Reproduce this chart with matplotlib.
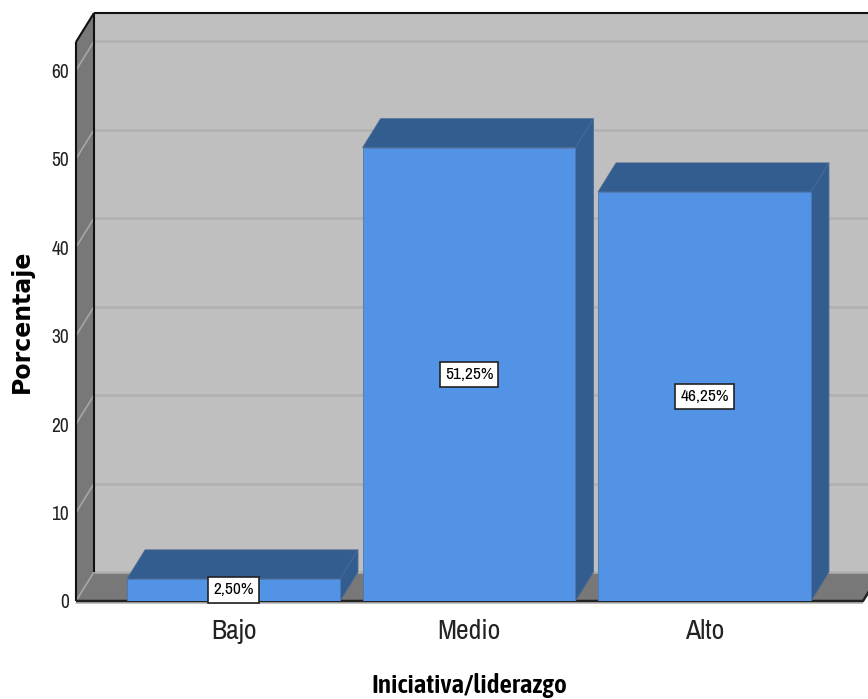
import matplotlib
matplotlib.use('Agg')
import matplotlib.pyplot as plt
from matplotlib.patches import Polygon

categorias = ['Bajo', 'Medio', 'Alto']
porcentajes = [2.50, 51.25, 46.25]
etiquetas = ['2,50%', '51,25%', '46,25%']
ticks_y = [0, 10, 20, 30, 40, 50, 60]

plt.rcParams['font.family'] = ['Archivo Narrow', 'Liberation Sans', 'DejaVu Sans']

AZUL = '#5393E5'
AZUL_OSC = '#335C8F'
PARED = '#BFBFBF'
GRIS_OSC = '#787878'
ANCHO = 0.904
# desplazamiento de la profundidad, en unidades de los datos
DX = 0.0764
DY = 3.28
Y_MAX = 63.2
X_MIN, X_MAX = -0.669, 2.673

fig = plt.figure(figsize=(8.68, 6.99), dpi=100)
ax = fig.add_axes([76/868, 98/699, (863-76)/868, (601-42)/699])
ax.set_xlim(X_MIN, X_MAX)
ax.set_ylim(0, Y_MAX)
ax.patch.set_visible(False)
for s in ax.spines.values():
    s.set_visible(False)


def poli(puntos, color, z, borde='none', lw=0):
    ax.add_patch(Polygon(puntos, closed=True, facecolor=color, edgecolor=borde,
                         linewidth=lw, zorder=z, clip_on=False))


def linea(xs, ys, color, lw, z):
    ax.plot(xs, ys, color=color, lw=lw, zorder=z, clip_on=False, solid_capstyle='butt')


# paredes y suelo
poli([(X_MIN+DX, DY), (X_MAX+DX, DY), (X_MAX+DX, Y_MAX+DY), (X_MIN+DX, Y_MAX+DY)], PARED, 1)
poli([(X_MIN, 0), (X_MIN+DX, DY), (X_MIN+DX, Y_MAX+DY), (X_MIN, Y_MAX)], GRIS_OSC, 1)
poli([(X_MIN, 0), (X_MAX, 0), (X_MAX+DX, DY), (X_MIN+DX, DY)], GRIS_OSC, 1)

# rejilla sobre el fondo y la pared lateral
for t in ticks_y:
    linea([X_MIN+DX, X_MAX+DX], [t+DY, t+DY], '#B0B0B0', 1.8, 2)
    linea([X_MIN, X_MIN+DX], [t, t+DY], '#A6A6A6', 1.2, 2)

# contorno
linea([X_MIN, X_MIN], [0, Y_MAX], '#111111', 1.5, 3)
linea([X_MIN+DX, X_MIN+DX], [DY, Y_MAX+DY], '#111111', 1.5, 3)
linea([X_MIN, X_MIN+DX], [Y_MAX, Y_MAX+DY], '#111111', 1.5, 3)
linea([X_MIN+DX, X_MAX+DX], [Y_MAX+DY, Y_MAX+DY], '#111111', 1.5, 3)
linea([X_MIN, X_MAX, X_MAX+DX], [0, 0, DY], '#222222', 1.8, 3)
linea([X_MIN, X_MAX], [-0.2, -0.2], '#B5B5B5', 1.2, 2)

# barras con su cara superior y lateral
pos = list(range(len(categorias)))
for x, v in zip(pos, porcentajes):
    iz, de = x - ANCHO/2, x + ANCHO/2
    poli([(iz, v), (de, v), (de+DX, v+DY), (iz+DX, v+DY)], AZUL_OSC, 4, '#4A6A94', 0.6)
    poli([(de, 0), (de+DX, DY), (de+DX, v+DY), (de, v)], AZUL_OSC, 4, '#4A6A94', 0.6)
ax.bar(pos, porcentajes, width=ANCHO, color=AZUL, edgecolor='#4A78B5', linewidth=0.6, zorder=5)

for x, v, e in zip(pos, porcentajes, etiquetas):
    ax.text(x, v/2, e, ha='center', va='center', fontsize=12.5, color='black', zorder=7,
            bbox=dict(boxstyle='square,pad=0.3', facecolor='white', edgecolor='#222222', linewidth=1.2))

ax.set_xticks(pos)
ax.set_xticklabels(categorias, fontsize=20, color='#222222')
ax.set_yticks(ticks_y)
ax.set_yticklabels([str(t) for t in ticks_y], fontsize=14, color='#222222')
ax.tick_params(axis='both', length=0)
ax.tick_params(axis='x', pad=13)
ax.tick_params(axis='y', pad=5)

fig.text(469/868, 1-686/699, 'Iniciativa/liderazgo', ha='center', va='center',
         fontsize=19.5, fontweight=600, color='black',
         family=['Asap Condensed', 'Liberation Sans', 'DejaVu Sans'])
fig.text(22/868, 1-321/699, 'Porcentaje', ha='center', va='center', rotation=90,
         fontsize=17, fontweight='bold', color='black', family=['DejaVu Sans'])

fig.savefig('out.png', dpi=100, facecolor='white')
